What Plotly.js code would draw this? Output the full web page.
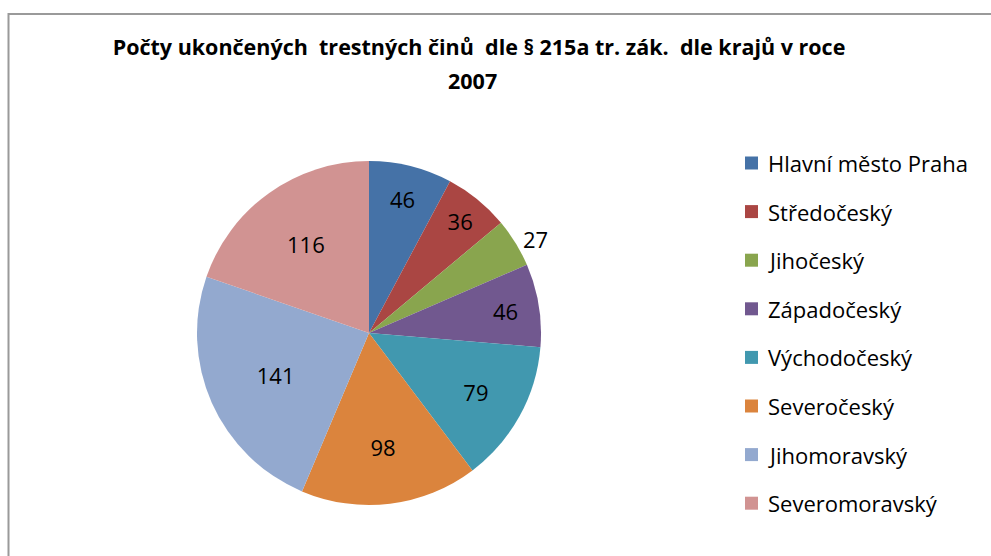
<!DOCTYPE html>
<html>
<head>
<meta charset="utf-8">
<script src="https://cdn.plot.ly/plotly-3.0.1.min.js"></script>
<style>
html,body{margin:0;padding:0;background:#fff;}
#chart{width:991px;height:556px;}
</style>
</head>
<body>
<div id="chart"></div>
<script>
const titleLine1 = "Počty ukončených  trestných činů  dle § 215a tr. zák.  dle krajů v roce";
const titleLine2 = "2007";
const regions = ["Hlavní město Praha","Středočeský","Jihočeský","Západočeský","Východočeský","Severočeský","Jihomoravský","Severomoravský"];
const counts = [46, 36, 27, 46, 79, 98, 141, 116];
const colors = ["#4572A7","#AA4643","#89A54E","#71588F","#4198AF","#DB843D","#93A9CF","#D19392"];
const labelPositions = ["inside","inside","outside","inside","inside","inside","inside","inside"];

const W = 991, H = 556;
const FONT = "'Open Sans', sans-serif";

const cx = 369, cy = 333, r = 172;

const trace = {
  type: "pie",
  labels: regions,
  values: counts,
  sort: false,
  direction: "clockwise",
  rotation: 0,
  marker: {colors: colors, line: {width: 0}},
  textinfo: "value",
  textposition: labelPositions,
  insidetextorientation: "horizontal",
  textfont: {family: FONT, size: 22, color: "#000"},
  outsidetextfont: {family: FONT, size: 22, color: "#000"},
  hoverinfo: "none",
  showlegend: false,
  domain: {x: [(cx - r) / W, (cx + r) / W], y: [(H - cy - r) / H, (H - cy + r) / H]}
};

const annotations = [];
const shapes = [];
shapes.push({type: "rect", xref: "paper", yref: "paper",
  x0: 8.5 / W, x1: 1.05, y0: -0.05, y1: 1 - 14 / H,
  line: {color: "#9a9a9a", width: 2}, fillcolor: "rgba(0,0,0,0)"});

annotations.push({xref: "paper", yref: "paper", x: 472 / W, y: 1 - 80 / H,
  xanchor: "center", yanchor: "middle", showarrow: false, text: titleLine2,
  font: {family: FONT, size: 21.5, color: "#000", weight: "bold"}});

const legX = 745, legY0 = 163, legStep = 48.6, sq = 13;
regions.forEach((name, i) => {
  const y = legY0 + i * legStep;
  shapes.push({type: "rect", xref: "paper", yref: "paper",
    x0: legX / W, x1: (legX + sq) / W,
    y0: 1 - (y + sq / 2) / H, y1: 1 - (y - sq / 2) / H,
    fillcolor: colors[i], line: {width: 0}});
  annotations.push({xref: "paper", yref: "paper", x: 766 / W, y: 1 - y / H,
    xanchor: "left", yanchor: "middle", showarrow: false, text: name,
    font: {family: FONT, size: 22, color: "#000"}});
});

const layout = {
  width: W, height: H,
  margin: {l: 0, r: 0, t: 0, b: 0},
  paper_bgcolor: "#fff",
  title: {text: titleLine1, x: 479 / W, xanchor: "center", y: 1 - 47 / H, yanchor: "middle",
    yref: "container", font: {family: FONT, size: 21.5, color: "#000", weight: "bold"}},
  shapes: shapes,
  annotations: annotations
};

Plotly.newPlot("chart", [trace], layout, {staticPlot: true, displayModeBar: false});
</script>
</body>
</html>
